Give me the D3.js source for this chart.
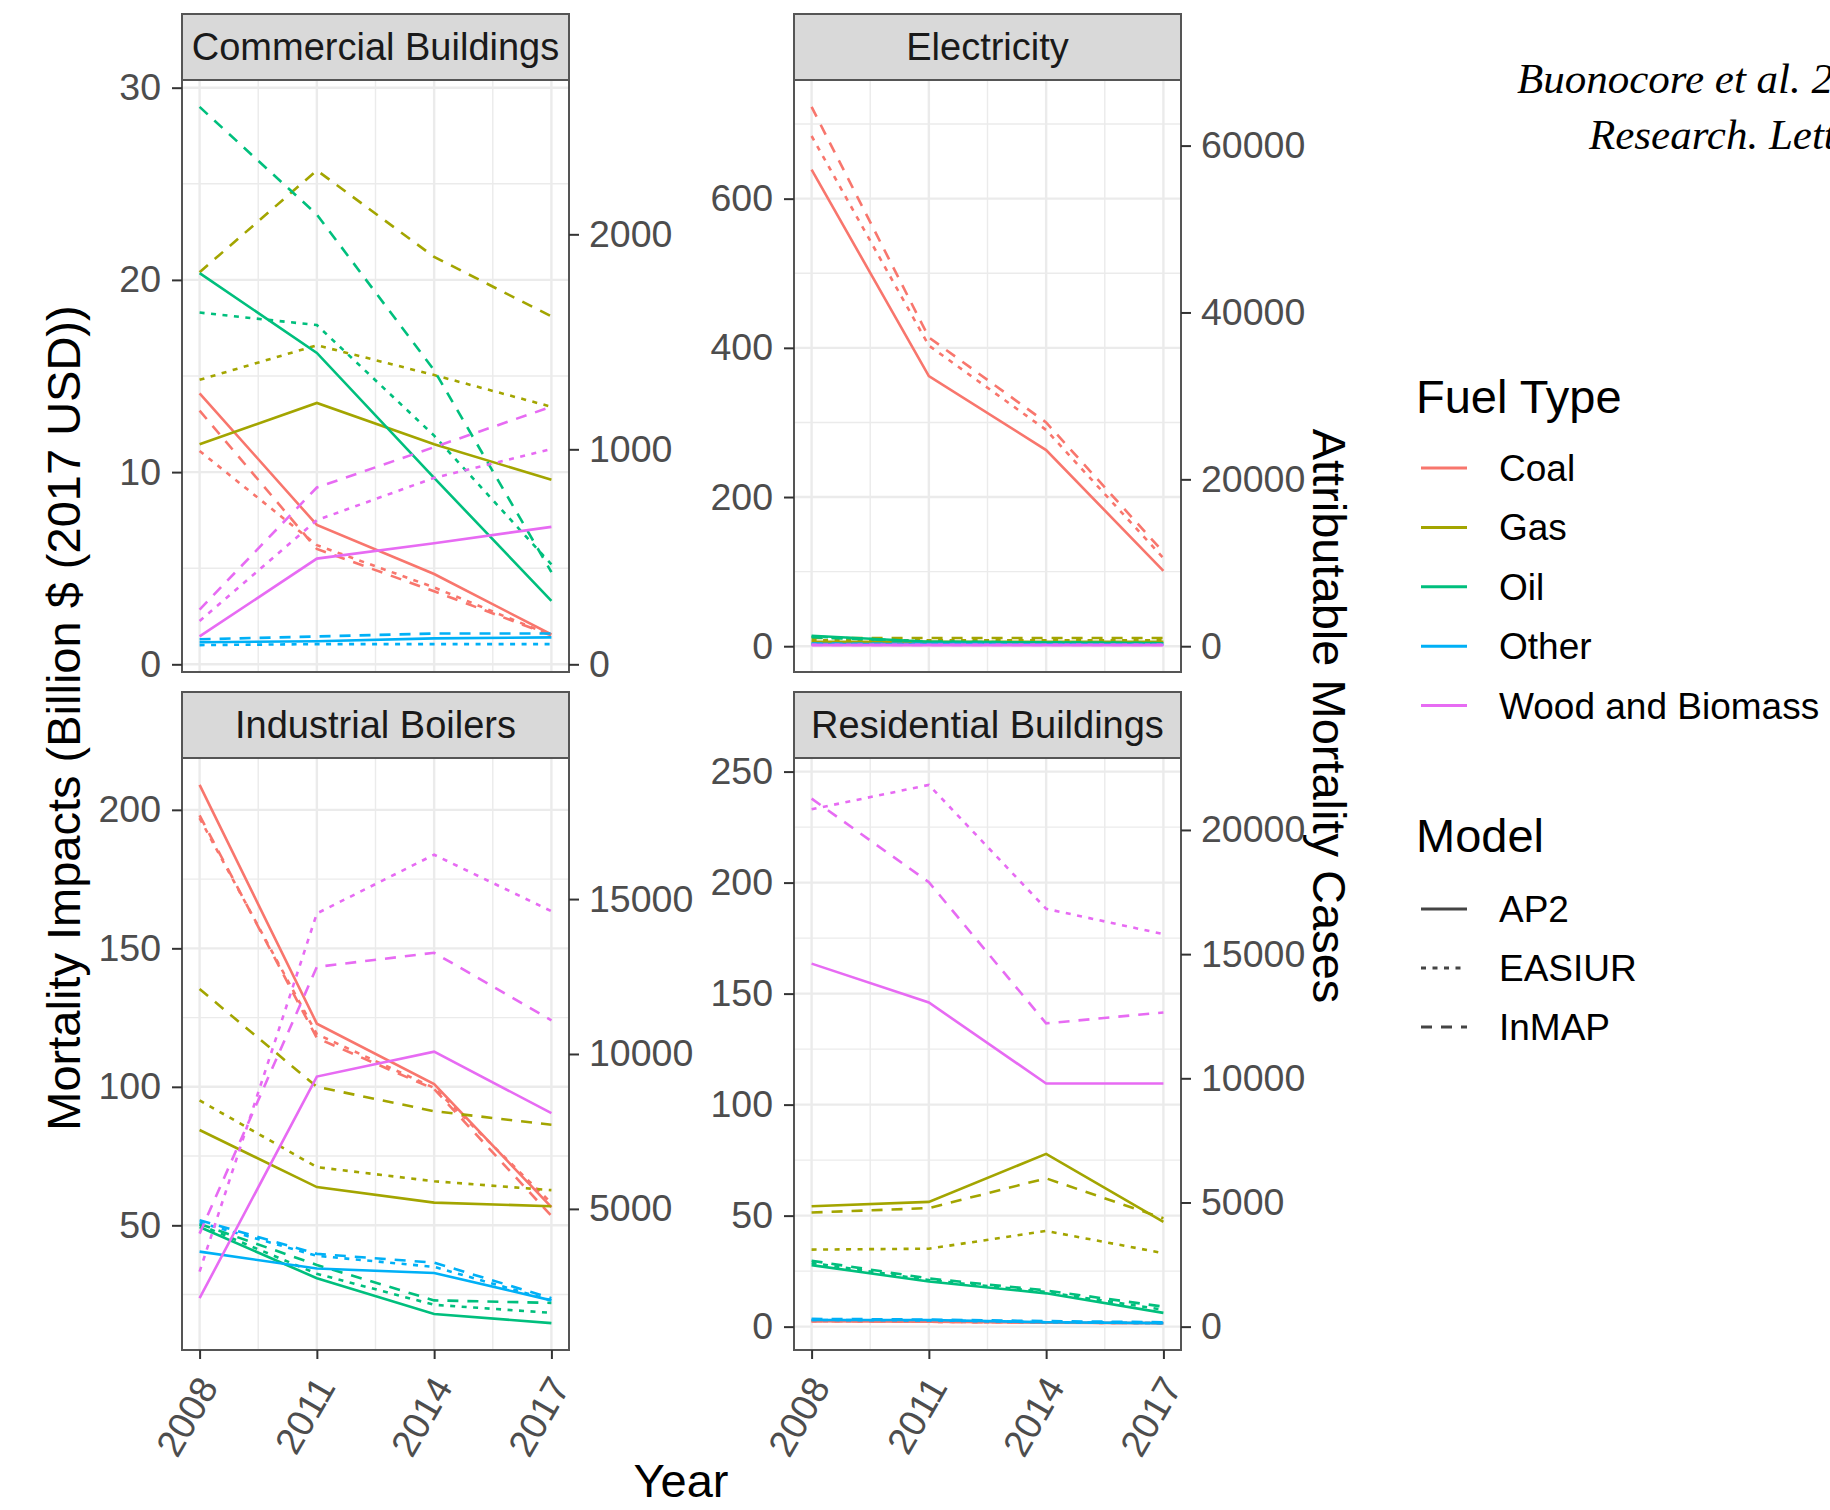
<!DOCTYPE html>
<html>
<head>
<meta charset="utf-8">
<script src="https://cdn.jsdelivr.net/npm/d3@7"></script>
<style>
  body { margin: 0; background: #fff; }
  text { font-family: "Liberation Sans", Arial, sans-serif; }
</style>
</head>
<body>
<div id="chart"></div>
<script>
const years = [2008, 2011, 2014, 2017];
const fuels = ["Coal", "Gas", "Oil", "Other", "Wood and Biomass"];
const models = ["AP2", "EASIUR", "InMAP"];
const fuelColors = ["#F8766D", "#A3A500", "#00BF7D", "#00B0F6", "#E76BF3"];
const modelDash = [null, "5,6.5", "11,9"];
const casesPerBillion = 89.4;

// [fuel, model, 2008, 2011, 2014, 2017]  (billion $, 2017 USD)
const commercial = [
  ["Coal", "AP2", 14.1, 7.25, 4.7, 1.55],
  ["Coal", "EASIUR", 11.1, 6.2, 4.0, 1.5],
  ["Coal", "InMAP", 13.2, 6.0, 3.8, 1.5],
  ["Gas", "AP2", 11.45, 13.6, 11.45, 9.6],
  ["Gas", "EASIUR", 14.8, 16.6, 15.05, 13.4],
  ["Gas", "InMAP", 20.4, 25.7, 21.2, 18.1],
  ["Oil", "AP2", 20.35, 16.2, 9.7, 3.3],
  ["Oil", "EASIUR", 18.3, 17.65, 11.9, 5.2],
  ["Oil", "InMAP", 29.0, 23.4, 15.3, 4.8],
  ["Other", "AP2", 1.15, 1.2, 1.35, 1.4],
  ["Other", "EASIUR", 1.0, 1.05, 1.05, 1.05],
  ["Other", "InMAP", 1.3, 1.45, 1.6, 1.6],
  ["Wood and Biomass", "AP2", 1.45, 5.5, 6.3, 7.15],
  ["Wood and Biomass", "EASIUR", 2.25, 7.5, 9.7, 11.2],
  ["Wood and Biomass", "InMAP", 2.85, 9.2, 11.3, 13.4]
];

const electricity = [
  ["Coal", "AP2", 639, 362, 263, 101],
  ["Coal", "EASIUR", 684, 403, 290, 118],
  ["Coal", "InMAP", 723, 414, 300, 126],
  ["Gas", "AP2", 6, 6, 6, 6],
  ["Gas", "EASIUR", 8, 8, 8, 8],
  ["Gas", "InMAP", 11, 11, 11, 11],
  ["Oil", "AP2", 14, 6, 5, 4],
  ["Oil", "EASIUR", 13, 6, 5, 4],
  ["Oil", "InMAP", 12, 6, 5, 4],
  ["Other", "AP2", 3, 3, 2.5, 2],
  ["Other", "EASIUR", 3, 3, 2.5, 2],
  ["Other", "InMAP", 3.5, 3, 2.5, 2],
  ["Wood and Biomass", "AP2", 1.5, 1.5, 1.5, 1.5],
  ["Wood and Biomass", "EASIUR", 2, 2, 2, 2],
  ["Wood and Biomass", "InMAP", 1.6, 1.6, 1.6, 1.6]
];

const industrial = [
  ["Coal", "AP2", 209, 122.8, 101, 56.6],
  ["Coal", "EASIUR", 197, 119, 99.6, 58],
  ["Coal", "InMAP", 198, 117.6, 99.2, 53.4],
  ["Gas", "AP2", 84.4, 63.8, 58.2, 56.9],
  ["Gas", "EASIUR", 95.1, 71, 65.9, 62.7],
  ["Gas", "InMAP", 135.3, 100, 91.2, 86.3],
  ["Oil", "AP2", 49.4, 30.9, 18, 14.7],
  ["Oil", "EASIUR", 50.2, 32.5, 21.3, 18.4],
  ["Oil", "InMAP", 50.5, 35.7, 22.9, 22],
  ["Other", "AP2", 40.5, 34.4, 32.8, 22.9],
  ["Other", "EASIUR", 51, 39, 35, 22.9],
  ["Other", "InMAP", 51.8, 39.7, 36.5, 23.7],
  ["Wood and Biomass", "AP2", 23.7, 103.7, 112.7, 90.5],
  ["Wood and Biomass", "EASIUR", 33.3, 162.6, 183.8, 163.4],
  ["Wood and Biomass", "InMAP", 47, 143.3, 148.4, 124]
];

const residential = [
  ["Coal", "AP2", 2.5, 2.2, 1.8, 1.6],
  ["Coal", "EASIUR", 2.5, 2.2, 1.8, 1.6],
  ["Coal", "InMAP", 2.5, 2.2, 1.8, 1.6],
  ["Gas", "AP2", 54.2, 56.2, 77.8, 47.2],
  ["Gas", "EASIUR", 34.7, 35.1, 43.1, 33.1],
  ["Gas", "InMAP", 51.4, 53.4, 66.8, 48.8],
  ["Oil", "AP2", 27.7, 20.3, 15, 6.2],
  ["Oil", "EASIUR", 28.7, 21, 15.6, 7.6],
  ["Oil", "InMAP", 29.7, 21.7, 16.3, 9],
  ["Other", "AP2", 3, 3, 2, 1.6],
  ["Other", "EASIUR", 3, 2.8, 2, 1.6],
  ["Other", "InMAP", 3.5, 3.2, 2.5, 2],
  ["Wood and Biomass", "AP2", 163.5, 146, 109.5, 109.5],
  ["Wood and Biomass", "EASIUR", 233, 244, 188.2, 176.8],
  ["Wood and Biomass", "InMAP", 237.8, 200.2, 136.6, 141.5]
];

const commercialTicks = [0, 10, 20, 30];
const commercialCaseTicks = [0, 1000, 2000];
const electricityTicks = [0, 200, 400, 600];
const electricityCaseTicks = [0, 20000, 40000, 60000];
const industrialTicks = [50, 100, 150, 200];
const industrialCaseTicks = [5000, 10000, 15000];
const residentialTicks = [0, 50, 100, 150, 200, 250];
const residentialCaseTicks = [0, 5000, 10000, 15000, 20000];

const panels = [
  {name: "Commercial Buildings", rows: commercial, ticks: commercialTicks, caseTicks: commercialCaseTicks, col: 0, row: 0},
  {name: "Electricity", rows: electricity, ticks: electricityTicks, caseTicks: electricityCaseTicks, col: 1, row: 0},
  {name: "Industrial Boilers", rows: industrial, ticks: industrialTicks, caseTicks: industrialCaseTicks, col: 0, row: 1},
  {name: "Residential Buildings", rows: residential, ticks: residentialTicks, caseTicks: residentialCaseTicks, col: 1, row: 1}
];

const width = 1830, height = 1510;
const colX = [182, 794];
const rowY = [14, 692];
const panelW = 387, stripH = 66, panelH = 592;
const tickFont = 37.5, titleFont = 47;

const svg = d3.select("#chart").append("svg")
  .attr("width", width)
  .attr("height", height)
  .style("background", "#fff");

const x = d3.scaleLinear()
  .domain([2008 - 0.45, 2017 + 0.45])
  .range([0, panelW]);

const line = d3.line()
  .x(d => x(d[0]))
  .y(d => d[1]);

function styleAxis(g) {
  g.select(".domain").remove();
  g.selectAll(".tick line").attr("stroke", "#333").attr("stroke-width", 2);
  g.selectAll(".tick text")
    .attr("fill", "#4D4D4D")
    .style("font-size", tickFont + "px")
    .style("font-family", "'Liberation Sans', Arial, sans-serif");
}

panels.forEach(p => {
  const g = svg.append("g")
    .attr("transform", `translate(${colX[p.col]},${rowY[p.row]})`);

  // y domain: data range expanded by 5% each side
  const all = p.rows.flatMap(r => r.slice(2));
  const lo = d3.min(all), hi = d3.max(all), pad = (hi - lo) * 0.05;
  const y = d3.scaleLinear()
    .domain([lo - pad, hi + pad])
    .range([stripH + panelH, stripH]);
  const yCases = d3.scaleLinear()
    .domain(y.domain().map(v => v * casesPerBillion))
    .range(y.range());

  // strip
  g.append("rect")
    .attr("x", 0).attr("y", 0)
    .attr("width", panelW).attr("height", stripH)
    .attr("fill", "#D9D9D9")
    .attr("stroke", "#555").attr("stroke-width", 2);
  g.append("text")
    .attr("x", panelW / 2).attr("y", stripH / 2 + 13)
    .attr("text-anchor", "middle")
    .attr("fill", "#1A1A1A")
    .style("font-size", "38px")
    .text(p.name);

  // grid
  const grid = g.append("g");
  const step = p.ticks[1] - p.ticks[0];
  const minorY = [];
  for (let m = p.ticks[0] - step / 2; m <= p.ticks[p.ticks.length - 1] + step / 2; m += step) {
    if (m > y.domain()[0] && m < y.domain()[1]) minorY.push(m);
  }
  const minorX = [2006.5, 2009.5, 2012.5, 2015.5, 2018.5].filter(v => v > x.domain()[0] && v < x.domain()[1]);

  grid.selectAll(".minor-y").data(minorY).enter().append("line")
    .attr("x1", 0).attr("x2", panelW)
    .attr("y1", d => y(d)).attr("y2", d => y(d))
    .attr("stroke", "#EBEBEB").attr("stroke-width", 1.4);
  grid.selectAll(".minor-x").data(minorX).enter().append("line")
    .attr("y1", stripH).attr("y2", stripH + panelH)
    .attr("x1", d => x(d)).attr("x2", d => x(d))
    .attr("stroke", "#EBEBEB").attr("stroke-width", 1.4);
  grid.selectAll(".major-y").data(p.ticks).enter().append("line")
    .attr("x1", 0).attr("x2", panelW)
    .attr("y1", d => y(d)).attr("y2", d => y(d))
    .attr("stroke", "#EBEBEB").attr("stroke-width", 2.4);
  grid.selectAll(".major-x").data(years).enter().append("line")
    .attr("y1", stripH).attr("y2", stripH + panelH)
    .attr("x1", d => x(d)).attr("x2", d => x(d))
    .attr("stroke", "#EBEBEB").attr("stroke-width", 2.4);

  // lines
  g.append("g").selectAll("path")
    .data(p.rows)
    .enter().append("path")
    .attr("d", r => line(years.map((yr, i) => [yr, y(r[i + 2])])))
    .attr("fill", "none")
    .attr("stroke", r => fuelColors[fuels.indexOf(r[0])])
    .attr("stroke-width", 2.6)
    .attr("stroke-dasharray", r => modelDash[models.indexOf(r[1])]);

  // border
  g.append("rect")
    .attr("x", 0).attr("y", stripH)
    .attr("width", panelW).attr("height", panelH)
    .attr("fill", "none")
    .attr("stroke", "#555").attr("stroke-width", 2);

  // axes
  g.append("g")
    .call(d3.axisLeft(y).tickValues(p.ticks).tickFormat(d3.format("d")).tickSize(10).tickPadding(11))
    .call(styleAxis);
  g.append("g")
    .attr("transform", `translate(${panelW},0)`)
    .call(d3.axisRight(yCases).tickValues(p.caseTicks).tickFormat(d3.format("d")).tickSize(10).tickPadding(10))
    .call(styleAxis);

  if (p.row === 1) {
    const xa = g.append("g")
      .attr("transform", `translate(0,${stripH + panelH})`)
      .call(d3.axisBottom(x).tickValues(years).tickFormat(d3.format("d")).tickSize(9))
      .call(styleAxis);
    xa.selectAll(".tick text")
      .attr("x", 0).attr("y", 0).attr("dy", 0)
      .attr("text-anchor", "end")
      .attr("transform", "translate(19,37) rotate(-60)");
  }
});

// axis titles
svg.append("text")
  .attr("transform", "translate(80,718) rotate(-90)")
  .attr("text-anchor", "middle")
  .attr("fill", "#000")
  .style("font-size", titleFont + "px")
  .text("Mortality Impacts (Billion $ (2017 USD))");

svg.append("text")
  .attr("transform", "translate(1313,716) rotate(90)")
  .attr("text-anchor", "middle")
  .attr("fill", "#000")
  .style("font-size", titleFont + "px")
  .text("Attributable Mortality Cases");

svg.append("text")
  .attr("x", 681).attr("y", 1497)
  .attr("text-anchor", "middle")
  .attr("fill", "#000")
  .style("font-size", titleFont + "px")
  .text("Year");

// legends
const legend = svg.append("g").attr("transform", "translate(1416,0)");
legend.append("text")
  .attr("x", 0).attr("y", 413)
  .style("font-size", titleFont + "px")
  .text("Fuel Type");
const fuelKeys = legend.selectAll(".fuel").data(fuels).enter().append("g")
  .attr("transform", (d, i) => `translate(0,${468 + i * 59.4})`);
fuelKeys.append("line")
  .attr("x1", 5).attr("x2", 51)
  .attr("stroke", (d, i) => fuelColors[i]).attr("stroke-width", 3);
fuelKeys.append("text")
  .attr("x", 83).attr("y", 13)
  .attr("fill", "#000")
  .style("font-size", "37px")
  .text(d => d);

legend.append("text")
  .attr("x", 0).attr("y", 852)
  .style("font-size", titleFont + "px")
  .text("Model");
const modelKeys = legend.selectAll(".model").data(models).enter().append("g")
  .attr("transform", (d, i) => `translate(0,${909 + i * 59})`);
modelKeys.append("line")
  .attr("x1", 5).attr("x2", 51)
  .attr("stroke", "#444").attr("stroke-width", 3)
  .attr("stroke-dasharray", (d, i) => modelDash[i]);
modelKeys.append("text")
  .attr("x", 83).attr("y", 13)
  .attr("fill", "#000")
  .style("font-size", "37px")
  .text(d => d);

// citation, cut by the right edge as in the source image
const citeLines = [
  {text: "Buonocore et al. 2021, Environ.", x: 1517, y: 93},
  {text: "Research. Letters", x: 1589, y: 149}
];
svg.selectAll(".cite").data(citeLines).enter().append("text")
  .attr("class", "cite")
  .attr("x", d => d.x).attr("y", d => d.y)
  .attr("fill", "#000")
  .style("font-family", "'Liberation Serif', 'Times New Roman', serif")
  .style("font-style", "italic")
  .style("font-size", "43px")
  .text(d => d.text);
</script>
</body>
</html>
